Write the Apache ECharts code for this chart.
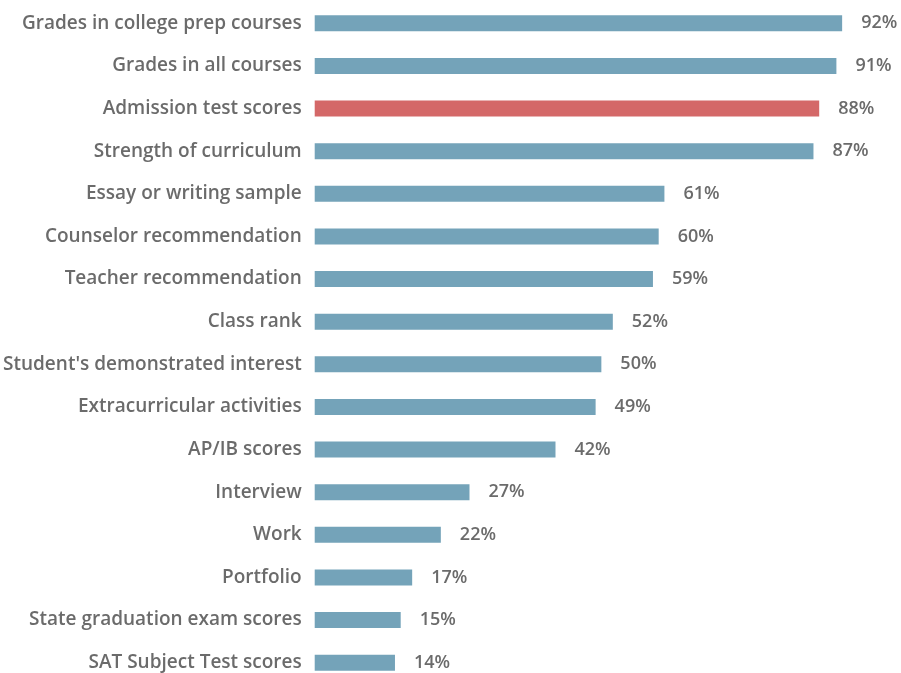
<!DOCTYPE html>
<html>
<head>
<meta charset="utf-8">
<script src="https://cdn.jsdelivr.net/npm/echarts@6/dist/echarts.min.js"></script>
<style>
    html, body { margin: 0; padding: 0; background: #fff; overflow: hidden; }
    #chart { width: 901px; height: 690px; }
</style>
</head>
<body>
<div id="chart"></div>
<script>
    // 类目与数值（从上到下）
    var categories = [
        "Grades in college prep courses", "Grades in all courses", "Admission test scores",
        "Strength of curriculum", "Essay or writing sample", "Counselor recommendation",
        "Teacher recommendation", "Class rank", "Student's demonstrated interest",
        "Extracurricular activities", "AP/IB scores", "Interview", "Work", "Portfolio",
        "State graduation exam scores", "SAT Subject Test scores"
    ];
    var values = [92, 91, 88, 87, 61, 60, 59, 52, 50, 49, 42, 27, 22, 17, 15, 14];
    var highlightName = "Admission test scores";

    var blue = '#74a3b9';
    var red = '#d46868';
    var textColor = '#6b6b6b';
    var fontFamily = '"Open Sans", sans-serif';

    var myChart = echarts.init(document.getElementById('chart'));
    myChart.setOption({
        animation: false,
        grid: {left: 313, top: 2, width: 575, height: 682},
        xAxis: {
            type: 'value', min: 0, max: 100,
            show: false
        },
        yAxis: {
            type: 'category',
            inverse: true,
            data: categories,
            axisLine: {show: false},
            axisTick: {show: false},
            axisLabel: {
                margin: 13,
                color: textColor,
                fontSize: 19,
                fontWeight: 600,
                fontFamily: fontFamily
            }
        },
        series: [{
            type: 'bar',
            barWidth: 16,
            data: values.map(function (v, i) {
                return {
                    value: v,
                    itemStyle: {color: categories[i] === highlightName ? red : blue}
                };
            }),
            label: {
                show: true,
                position: 'right',
                distance: 19,
                formatter: '{c}%',
                color: textColor,
                fontSize: 18,
                fontWeight: 600,
                fontFamily: fontFamily
            }
        }]
    });
</script>
</body>
</html>
